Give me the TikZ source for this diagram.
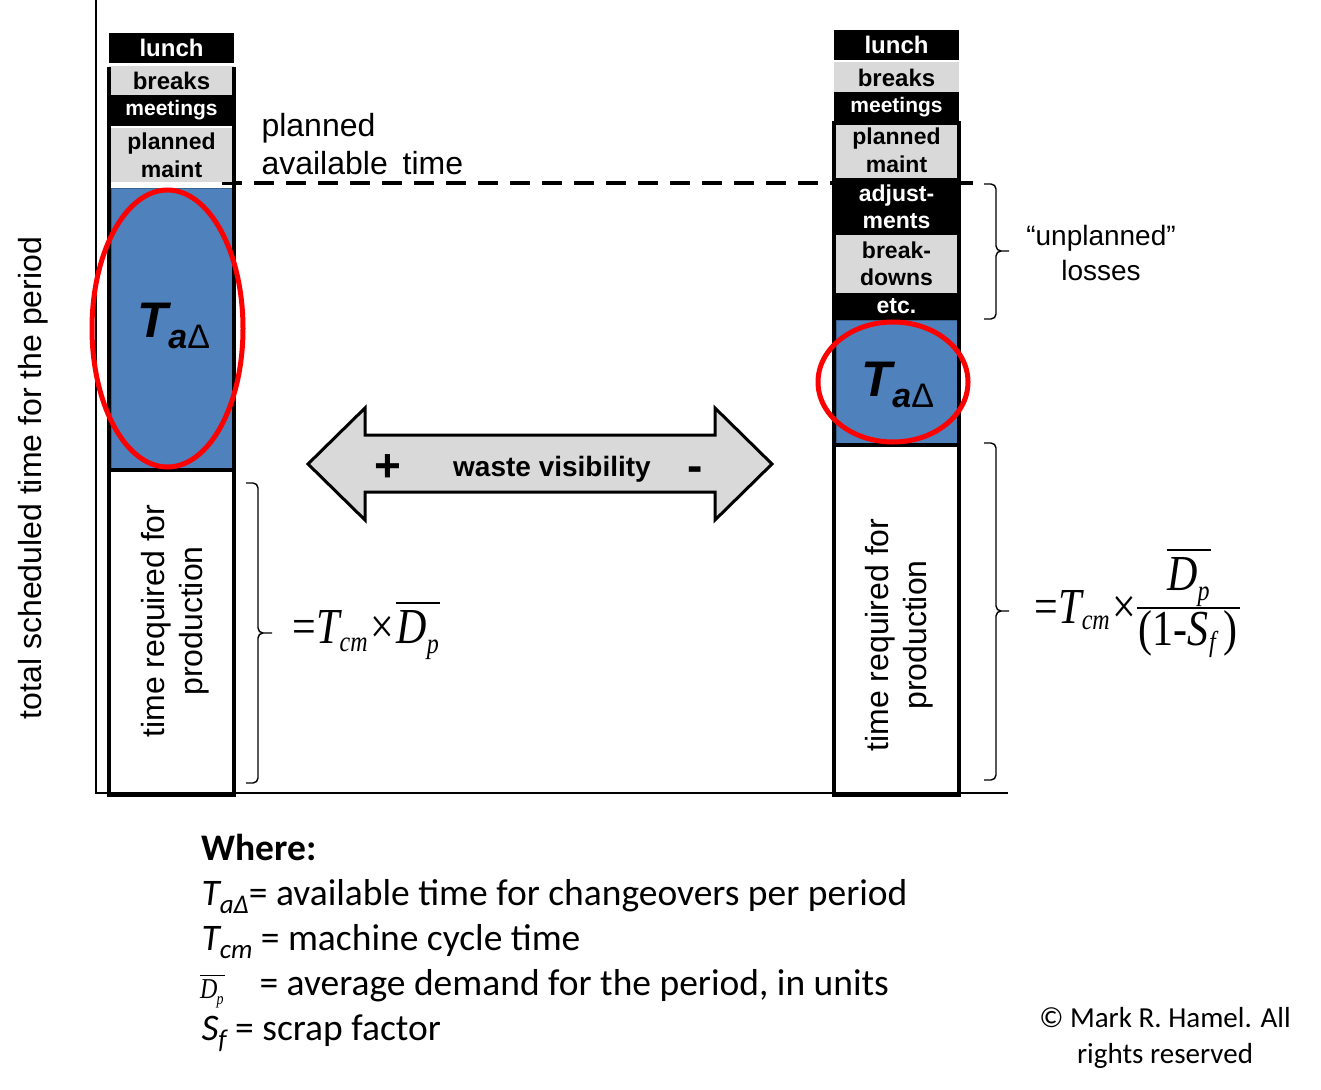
\documentclass[tikz,border=0pt]{standalone}
\usepackage{mathptmx}
\usepackage{graphicx}
\usepackage[no-math]{fontspec}
\setmainfont{Liberation Sans}
\newfontfamily\calfont{Carlito}
\newfontfamily\tmsfont{Liberation Serif}
\definecolor{boxgray}{HTML}{D9D9D9}
\definecolor{tblue}{HTML}{4F81BD}
\newcommand\fs[2]{\fontsize{#1}{#2}\selectfont}
\newcommand\tit[1]{{\tmsfont\itshape #1}}
\newcommand\subs[2]{\raisebox{#1}{\fs{24}{24}\tmsfont\itshape #2}}
\newcommand\Dbar[1]{$\overline{\hbox{\tit{D}\kern0pt\subs{#1}{p}\kern1pt}}$}
% brace: hook x, vertical x, tip x, top y, middle y, bottom y
\newcommand\bracepath[6]{%
  \draw[bracestyle] (#1,#4) -- (#2,#4) -- (#2,#5) -- (#3,#5)
                    (#3,#5) -- (#2,#5) -- (#2,#6) -- (#1,#6);}
\begin{document}
\begin{tikzpicture}[x=1pt,y=-1pt,
 cell/.style={inner sep=0pt, minimum width=125pt, align=center, font=\bfseries\fs{24}{27}},
 blk/.style={cell, fill=black, text=white},
 gry/.style={cell, fill=boxgray, text=black},
 bluebox/.style={fill=tblue, draw=tblue!75!black, line width=1pt, minimum width=121pt, inner sep=0pt},
 colframe/.style={line width=4pt, line join=miter},
 bracestyle/.style={line width=1.4pt, rounded corners=5pt},
 ring/.style={draw=red, line width=5pt},
 lbl/.style={inner sep=0pt},
 frm/.style={inner sep=0pt, anchor=base west, font=\fs{42}{42}\tmsfont},
]
\useasboundingbox (0,0) rectangle (1321,1089);

% axes
\coordinate (axtop) at (96,0);
\coordinate (axo) at (96,793);
\coordinate (axr) at (1008,793);
\draw[line width=1.5pt] (axtop) -- (axo) -- (axr);

% dashed planned-available line
\coordinate (d1) at (222,183);
\coordinate (d2) at (973,183);
\draw[line width=4pt, dash pattern=on 20pt off 12pt] (d1) -- (d2);

% ---------- left column ----------
\node[blk, minimum height=30pt] (Llunch) at (171.5,48) {lunch};
\node[gry, minimum height=29pt] (Lbreaks) at (171.5,80.5) {breaks};
\node[blk, minimum height=30pt, font=\bfseries\fs{21}{24}] (Lmeet) at (171.5,110.5) {meetings};
\node[gry, minimum height=54pt, font=\bfseries\fs{23}{28}] (Lmaint) at (171.5,155) {planned\\maint};
\node[bluebox, minimum height=282pt] (Lblue) at (171.5,329) {};
\draw[colframe] (109,67) -- (109,795) -- (234,795) -- (234,67);
\draw[colframe] (109,470) -- (234,470);
\draw[ring] (167.5,328.5) ellipse [x radius=75.5pt, y radius=138.5pt];
\node[lbl] (LT) at (174,326) {\fs{50}{50}\bfseries\itshape T\raisebox{-11pt}{\fs{34}{34}a\mdseries\upshape Δ}};
\node[rotate=90, font=\fs{32}{38}, align=center] (Lreq) at (175,621) {time required for\\production};

% ---------- right column ----------
\node[blk, minimum height=30pt] (Rlunch) at (896.5,45) {lunch};
\node[gry, minimum height=30pt] (Rbreaks) at (896.5,77.5) {breaks};
\node[blk, minimum height=30pt, font=\bfseries\fs{21}{24}] (Rmeet) at (896.5,107.5) {meetings};
\node[gry, minimum height=55pt, font=\bfseries\fs{23}{28}] (Rmaint) at (896.5,150.5) {planned\\maint};
\node[blk, minimum height=57pt, font=\bfseries\fs{23}{27}] (Radj) at (896.5,206.5) {adjust-\\ments};
\node[gry, minimum height=58pt, font=\bfseries\fs{23}{27}] (Rbd) at (896.5,264) {break-\\downs};
\node[blk, minimum height=27pt, font=\bfseries\fs{23}{27}] (Retc) at (896.5,306.5) {etc.};
\node[bluebox, minimum height=125pt] (Rblue) at (896.5,382.5) {};
\draw[colframe] (834,123) rectangle (959,795);
\draw[colframe] (834,445) -- (959,445);
\draw[ring] (893,382) ellipse [x radius=75pt, y radius=60pt];
\node[lbl] (RT) at (898,385) {\fs{50}{50}\bfseries\itshape T\raisebox{-11pt}{\fs{34}{34}a\mdseries\upshape Δ}};
\node[rotate=90, font=\fs{32}{38}, align=center] (Rreq) at (899,635) {time required for\\production};

% ---------- labels ----------
\node[anchor=west, font=\fs{32}{38}, align=left] (pat) at (258,144) {planned\\available\hspace{6pt} time};
\node[font=\fs{28}{35}, align=center] (unpl) at (1101,253) {“unplanned”\\losses};
\node[rotate=90, font=\fs{32}{32}] (tot) at (33,478) {total scheduled time for the period};

% braces
\bracepath{984}{996}{1009}{184}{251}{319}
\bracepath{246}{258}{272}{483}{633}{783}
\bracepath{984}{996}{1009}{443}{611}{780}

% formulas
\node[frm] (fL) at (292,643) {\scalebox{1}[1.2]{=\kern1pt\tit{T}\kern-0.5pt\subs{-7pt}{cm}\kern3pt×\kern2pt\Dbar{-9pt}}};
\node[frm] (fR) at (1034,623) {\scalebox{1}[1.2]{=\kern1pt\tit{T}\kern-0.5pt\subs{-5pt}{cm}\kern3pt×}};
\node[frm] (fRn) at (1167,590) {\scalebox{1}[1.2]{\Dbar{-9pt}}};
\draw[line width=2pt] (1137,608) -- (1240,608);
\node[frm] (fRd) at (1138,645) {\scalebox{1}[1.2]{(1-\tit{S}\kern1pt\subs{-5pt}{f}\kern8pt)}};

% waste visibility double arrow
\draw[line width=3pt, fill=boxgray, line join=miter]
  (308,464) -- (365,408) -- (365,435) -- (715,435) -- (715,408) -- (772,464)
  -- (715,520) -- (715,492) -- (365,492) -- (365,520) -- cycle;
\node[font=\bfseries\fs{46}{46}] (plus) at (388,468) {+};
\node[font=\bfseries\fs{28}{28}] (wv) at (552,469) {waste visibility};
\node[font=\bfseries\fs{46}{46}] (minus) at (695,474) {-};

% ---------- legend ----------
\node[anchor=base west, font=\calfont\bfseries\fs{37.5}{37.5}] (where) at (198,860) {Where:};
\node[anchor=base west, font=\calfont\fs{37.5}{37.5}] (w1) at (198,905) {\itshape T\raisebox{-8pt}{\fs{27}{27}aΔ}\upshape{}= available time for changeovers per period};
\node[anchor=base west, font=\calfont\fs{37.5}{37.5}] (w2) at (198,950) {\itshape T\raisebox{-8pt}{\fs{27}{27}cm}\upshape{} = machine cycle time};
\node[anchor=base west, inner sep=0pt, font=\fs{24}{24}\tmsfont] (w3d) at (200,998) {\scalebox{1}[1.2]{$\overline{\hbox{\itshape D\kern-1pt\raisebox{-5pt}{\fs{14}{14}p}\kern1pt}}$}};
\node[anchor=base west, font=\calfont\fs{37.5}{37.5}] (w3) at (256,995) {= average demand for the period, in units};
\node[anchor=base west, font=\calfont\fs{37.5}{37.5}] (w4) at (198,1040) {\itshape S\raisebox{-8pt}{\fs{27}{27}f}\upshape{} = scrap factor};

\node[font=\calfont\fs{29}{36}, align=center] (copy) at (1165,1038) {© Mark R. Hamel. All\\rights reserved};
\end{tikzpicture}
\end{document}
